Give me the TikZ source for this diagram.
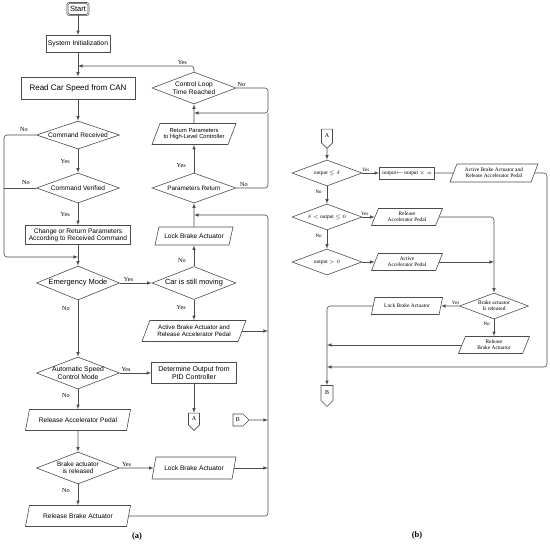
\documentclass[tikz,border=0pt]{standalone}
\usepackage{fontspec}
\setmainfont{Liberation Serif}
\setsansfont{Liberation Sans}
\usetikzlibrary{arrows,shapes.geometric,shapes.symbols}

\begin{document}
\begin{tikzpicture}[x=1pt,y=-1pt,>=latex]
    \tikzset{line/.style = {draw=black!70, line width=0.6pt}}
    \tikzset{flow/.style = {line, ->}}
    \tikzset{box/.style = {rectangle, line, align=center, inner sep=1pt}}
    \tikzset{decision/.style = {diamond, aspect=2.7, line, align=center, inner sep=-1pt}}
    \tikzset{io/.style = {trapezium, trapezium left angle=60, trapezium right angle=120, trapezium stretches body, line, align=center, inner sep=1pt}}
    \tikzset{offpage/.style = {signal, signal to=south, line, inner sep=1pt, font=\fontsize{6}{7}\selectfont}}
    \tikzset{fa/.style = {font=\sffamily\fontsize{6.6}{7.4}\selectfont}}
    \tikzset{fb/.style = {font=\fontsize{5.4}{6.2}\selectfont}}
    \tikzset{lbl/.style = {font=\fontsize{6.2}{7}\selectfont, inner sep=1pt}}
    \tikzset{lblb/.style = {font=\fontsize{5}{6}\selectfont, inner sep=1pt}}

    \useasboundingbox (0,0) rectangle (550,544);

    % (a) vertices
    \node[box, rounded corners=2pt, double, double distance=0.5pt, minimum width=21pt, minimum height=12pt, font=\sffamily\fontsize{7.5}{8}\selectfont] (start) at (78,9) {Start};
    \node[box, minimum width=64pt, minimum height=17pt, font=\sffamily\fontsize{6.8}{7.5}\selectfont] (init) at (78,44) {System Initialization};
    \node[box, minimum width=114pt, minimum height=22pt, font=\sffamily\fontsize{8}{9}\selectfont] (read) at (78,88) {Read Car Speed from CAN};
    \node[decision, fa, minimum width=83pt, minimum height=28pt] (cr) at (78,135) {Command Received};
    \node[decision, fa, minimum width=83pt, minimum height=30pt] (cv) at (78,188) {Command Verified};
    \node[box, fa, minimum width=105pt, minimum height=19pt] (change) at (78,235) {Change or Return Parameters\\According to Received Command};
    \node[decision, fa, font=\sffamily\fontsize{7.5}{8}\selectfont, minimum width=83pt, minimum height=34pt] (em) at (78,283) {Emergency Mode};
    \node[decision, fa, font=\sffamily\fontsize{7.4}{8}\selectfont, minimum width=84pt, minimum height=33pt] (car) at (194,283) {Car is still moving};
    \node[io, fa, minimum width=78pt, minimum height=18pt] (lockA) at (194,236) {Lock Brake Actuator};
    \node[decision, fa, font=\sffamily\fontsize{6.3}{7}\selectfont, minimum width=84pt, minimum height=30pt] (pr) at (194,188) {Parameters Return};
    \node[io, fa, font=\sffamily\fontsize{5.8}{6.6}\selectfont, minimum width=84pt, minimum height=21pt] (retP) at (194,134) {Return Parameters\\to High-Level Controller};
    \node[decision, fa, minimum width=84pt, minimum height=32pt] (cl) at (194,88) {Control Loop\\Time Reached};
    \node[io, fa, font=\sffamily\fontsize{6.2}{7}\selectfont, minimum width=104pt, minimum height=21pt] (actA) at (194,331) {Active Brake Actuator and\\Release Accelerator Pedal};
    \node[decision, fa, font=\sffamily\fontsize{6.8}{7.6}\selectfont, minimum width=83pt, minimum height=32pt] (asc) at (78,373) {Automatic Speed\\Control Mode};
    \node[box, fa, font=\sffamily\fontsize{7}{8}\selectfont, minimum width=85pt, minimum height=21pt] (det) at (194,373) {Determine Output from\\PID Controller};
    \node[offpage, minimum width=11pt, minimum height=15pt] (conA) at (194,419) {A};
    \node[io, fa, minimum width=105pt, minimum height=21pt] (relAcc) at (78,420) {Release Accelerator Pedal};
    \node[decision, fa, font=\sffamily\fontsize{6.4}{7.2}\selectfont, minimum width=83pt, minimum height=32pt] (bar) at (78,468) {Brake actuator\\is released};
    \node[io, fa, minimum width=84pt, minimum height=22pt] (lockB) at (194,468) {Lock Brake Actuator};
    \node[io, fa, minimum width=105pt, minimum height=21pt] (relB) at (78,516) {Release Brake Actuator};
    \node[offpage, signal to=east, minimum width=16pt, minimum height=12pt] (conB) at (238,420) {B};
    \node[font=\bfseries\fontsize{8.5}{10}\selectfont] (capA) at (137,536) {(a)};

    % (a) junctions
    \coordinate (j1) at (78,66);
    \coordinate (j2) at (78,257);
    \coordinate (j3) at (194,215);
    \coordinate (j4) at (194,113);
    \coordinate (lbus) at (4,257);
    \coordinate (rloop) at (268,113);
    \coordinate (rbus) at (268,215);

    % (a) edges
    \draw[flow] (start) -- (init);
    \draw[flow] (init) -- (read);
    \draw[flow] (read) -- (cr);
    \draw[flow] (cr) -- node[lbl, left=7pt]{Yes} (cv);
    \draw[flow] (cv) -- node[lbl, left=7pt]{Yes} (change);
    \draw[flow] (change) -- (em);
    \draw[flow, rounded corners=3pt] (cr.west) -| node[lbl, pos=0.19, above=2pt]{No} (lbus) -- (j2);
    \draw[line] (cv.west) -- node[lbl, pos=0.32, above=2pt]{No} (cv.west -| lbus);
    \draw[flow] (em) -- node[lbl, pos=0.27, above]{Yes} (car);
    \draw[flow] (car) -- node[lbl, pos=0.27, left=7pt]{No} (lockA);
    \draw[flow] (lockA) -- (pr);
    \draw[flow] (pr) -- node[lbl, pos=0.25, left=7pt]{Yes} (retP);
    \draw[flow] (retP) -- (cl);
    \draw[flow, rounded corners=3pt] (cl.north) |- node[lbl, pos=0.55, above]{Yes} (j1);
    \draw[flow, rounded corners=3pt] (cl.east) -| node[lbl, pos=0.08, above]{No} (rloop) -- (j4);
    \draw[line, rounded corners=3pt] (pr.east) -| node[lbl, pos=0.12, above]{No} (rloop);
    \draw[flow] (car) -- node[lbl, pos=0.4, left=7pt]{Yes} (actA);
    \draw[flow] (actA.east) -- (actA.east -| rbus);
    \draw[flow] (em) -- node[lbl, pos=0.14, left=7pt]{No} (asc);
    \draw[flow] (asc) -- node[lbl, pos=0.2, above]{Yes} (det);
    \draw[flow] (det) -- (conA);
    \draw[flow] (asc) -- node[lbl, pos=0.3, left=7pt]{No} (relAcc);
    \draw[flow] (relAcc) -- (bar);
    \draw[flow] (bar) -- node[lbl, pos=0.2, above]{Yes} (lockB);
    \draw[flow] (lockB.east) -- (lockB.east -| rbus);
    \draw[flow] (bar) -- node[lbl, pos=0.3, left=7pt]{No} (relB);
    \draw[flow, rounded corners=3pt] (relB.east) -| (rbus) -- (j3);
    \draw[flow] (conB) -- (conB -| rbus);

    % (b) vertices
    \node[offpage, minimum width=11pt, minimum height=17pt] (conA2) at (327,136) {A};
    \node[decision, fb, minimum width=70pt, minimum height=26pt] (d1) at (327,173) {output $\leq\delta$};
    \node[box, fb, minimum width=55pt, minimum height=12pt] (mul) at (407,173) {output$\leftarrow$ output $\times\;\alpha$};
    \node[io, fb, minimum width=88pt, minimum height=18pt] (act2) at (494,173) {Active Brake Actuator and\\Release Accelerator Pedal};
    \node[decision, fb, minimum width=70pt, minimum height=26pt] (d2) at (327,217) {$\delta<$ output $\leq 0$};
    \node[io, fb, minimum width=71pt, minimum height=17pt] (rel2) at (407,217) {Release\\Accelerator Pedal};
    \node[decision, fb, minimum width=70pt, minimum height=26pt] (d3) at (327,262) {output $>0$};
    \node[io, fb, minimum width=71pt, minimum height=17pt] (acc2) at (407,262) {Active\\Accelerator Pedal};
    \node[decision, fb, minimum width=69pt, minimum height=26pt] (bar2) at (494,306) {Brake actuator\\Is released};
    \node[io, fb, minimum width=71pt, minimum height=17pt] (lock2) at (407,306) {Lock Brake Actuator};
    \node[io, fb, minimum width=71pt, minimum height=17pt] (relB2) at (494,345) {Release\\Brake Actuator};
    \node[offpage, minimum width=12pt, minimum height=18pt] (conB2) at (327,393) {B};
    \node[font=\bfseries\fontsize{8.5}{10}\selectfont] (capB) at (417,535) {(b)};

    % (b) junctions
    \coordinate (bbus) at (547,367);
    \coordinate (bj) at (327,367);

    % (b) edges
    \draw[flow] (conA2) -- (d1);
    \draw[flow] (d1) -- node[lblb, pos=0.2, above]{Yes} (mul);
    \draw[line] (mul) -- (act2);
    \draw[flow, rounded corners=3pt] (act2.east) -| (bbus) -- (bj);
    \draw[flow] (d1) -- node[lblb, pos=0.3, left=4pt]{No} (d2);
    \draw[flow] (d2) -- node[lblb, pos=0.2, above]{Yes} (rel2);
    \draw[flow, rounded corners=3pt] (rel2.east) -| (bar2.north);
    \draw[flow] (d2) -- node[lblb, pos=0.3, left=4pt]{No} (d3);
    \draw[flow] (d3) -- (acc2);
    \draw[flow] (acc2.east) -- (acc2.east -| bar2.north);
    \draw[flow] (bar2) -- node[lblb, pos=0.2, above]{Yes} (lock2);
    \draw[flow, rounded corners=3pt] (lock2.west) -| (conB2.north);
    \draw[flow] (bar2) -- node[lblb, pos=0.25, left=3pt]{No} (relB2);
    \draw[flow] (relB2.west) -- (relB2.west -| conB2.north);
\end{tikzpicture}
\end{document}
